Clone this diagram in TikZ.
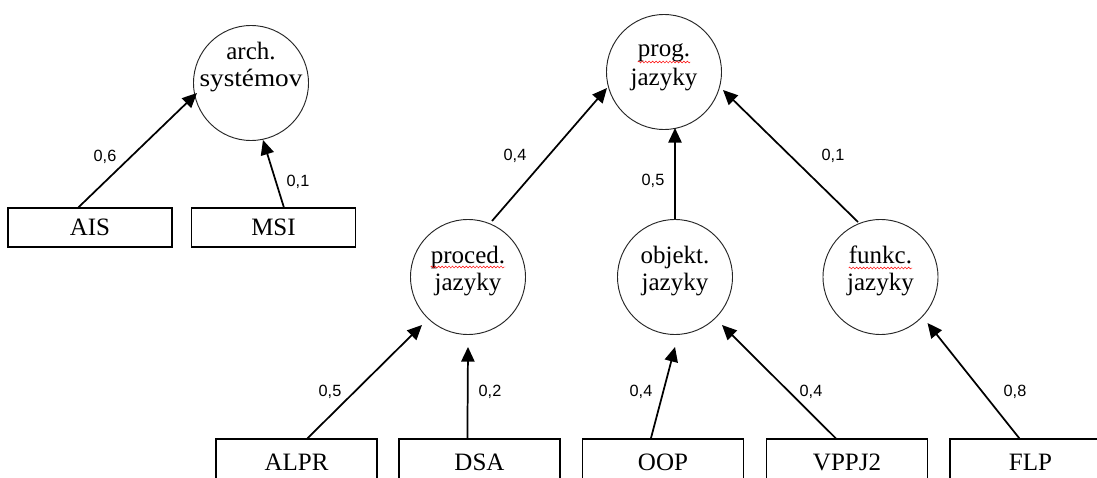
\documentclass[tikz,border=0pt]{standalone}
\usepackage{graphicx}
\usepackage{fontspec}
\setmainfont{Liberation Serif}
\newfontfamily\lblfont{Liberation Sans}
\usetikzlibrary{arrows.meta,calc,decorations.pathmorphing}

\begin{document}
\begin{tikzpicture}[x=0.75pt,y=-0.75pt,
  circ/.style={circle,draw=black!85,line width=0.7pt,minimum size=86.25pt,inner sep=0pt},
  ctext/.style={anchor=base,inner sep=0pt,font=\fontsize{18.75pt}{20pt}\selectfont},
  box/.style={rectangle,draw,line width=0.9pt,inner sep=0pt,font=\fontsize{18.75pt}{20pt}\selectfont},
  toprow/.style={box,minimum width=123pt,minimum height=29.25pt},
  botrow/.style={box,minimum width=120.75pt,minimum height=34.5pt},
  conn/.style={line width=1.3pt,-{Triangle[length=11pt,width=10pt]}},
  wlabel/.style={font=\lblfont\fontsize{12.2pt}{14pt}\selectfont,inner sep=0pt},
  squig/.style={red,line width=0.35pt,decorate,decoration={snake,amplitude=0.7pt,segment length=2.6pt}}
]
\useasboundingbox (0,0) rectangle (1097,478);
\clip (0,0) rectangle (1097,478);
\fill[white] (0,0) rectangle (1097,478);

% subject areas
\node[circ] (arch)   at (251,83)    {};
\node[circ] (prog)   at (664,72)    {};
\node[circ] (proced) at (468,277)   {};
\node[circ] (objekt) at (675,277)   {};
\node[circ] (funkc)  at (880.5,277) {};

% their two-line captions, set on fixed baselines
\node[ctext] (arch-a)   at ($(arch)+(0,-23)$)   {arch.};
\node[ctext] (arch-b)   at ($(arch)+(0,4)$)     {\scalebox{1.09}[1]{systémov}};
\node[ctext] (prog-a)   at ($(prog)+(0,-15)$)   {prog.};
\node[ctext] (prog-b)   at ($(prog)+(0,14)$)    {jazyky};
\node[ctext] (proced-a) at ($(proced)+(0,-14)$) {proced.};
\node[ctext] (proced-b) at ($(proced)+(0,13)$)  {jazyky};
\node[ctext] (objekt-a) at ($(objekt)+(0,-14)$) {objekt.};
\node[ctext] (objekt-b) at ($(objekt)+(0,13)$)  {jazyky};
\node[ctext] (funkc-a)  at ($(funkc)+(0,-14)$)  {funkc.};
\node[ctext] (funkc-b)  at ($(funkc)+(0,13)$)   {jazyky};

% courses
\node[toprow] (ais)  at (90,227.5)    {AIS};
\node[toprow] (msi)  at (273.5,227.5) {MSI};
\node[botrow] (alpr) at (296.5,462)   {ALPR};
\node[botrow] (dsa)  at (479.5,462)   {DSA};
\node[botrow] (oop)  at (663,462)     {OOP};
\node[botrow] (vppj) at (847,462)     {VPPJ2};
\node[botrow] (flp)  at (1030.5,462)  {FLP};

% weighted links
\draw[conn] ($(ais.north west)+(71,0)$)  -- ($(arch)+(-54,10)$);
\draw[conn] ($(msi.north west)+(93,0)$)  -- ($(arch)+(12,57)$);
\draw[conn] ($(proced)+(24,-56)$)        -- ($(prog)+(-57,16)$);
\draw[conn] (objekt.north)               -- ($(prog)+(11,56)$);
\draw[conn] ($(funkc)+(-22.5,-55)$)      -- ($(prog)+(59,18)$);
\draw[conn] ($(alpr.north west)+(92,0)$) -- ($(proced)+(-46,48)$);
\draw[conn] ($(dsa.north west)+(69,0)$)  -- ($(proced)+(0,70)$);
\draw[conn] ($(oop.north west)+(69,0)$)  -- ($(objekt)+(0,70)$);
\draw[conn] ($(vppj.north west)+(70,0)$) -- ($(objekt)+(47,48)$);
\draw[conn] ($(flp.north west)+(70,0)$)  -- ($(funkc)+(47,46)$);

% weights
\node[wlabel] (w1)  at (105,157) {0,6};
\node[wlabel] (w2)  at (298,182) {0,1};
\node[wlabel] (w3)  at (515,156) {0,4};
\node[wlabel] (w4)  at (653,181) {0,5};
\node[wlabel] (w5)  at (833,156) {0,1};
\node[wlabel] (w6)  at (330,392) {0,5};
\node[wlabel] (w7)  at (490,392) {0,2};
\node[wlabel] (w8)  at (641,392) {0,4};
\node[wlabel] (w9)  at (811,392) {0,4};
\node[wlabel] (w10) at (1015,392) {0,8};

% spell-check underlines
\draw[squig] ($(prog-a.base west)+(0,5)$)   -- ($(prog-a.base east)+(0,5)$);
\draw[squig] ($(proced-a.base west)+(0,4)$) -- ($(proced-a.base east)+(0,4)$);
\draw[squig] ($(funkc-a.base west)+(0,5)$)  -- ($(funkc-a.base east)+(0,5)$);
\end{tikzpicture}
\end{document}
